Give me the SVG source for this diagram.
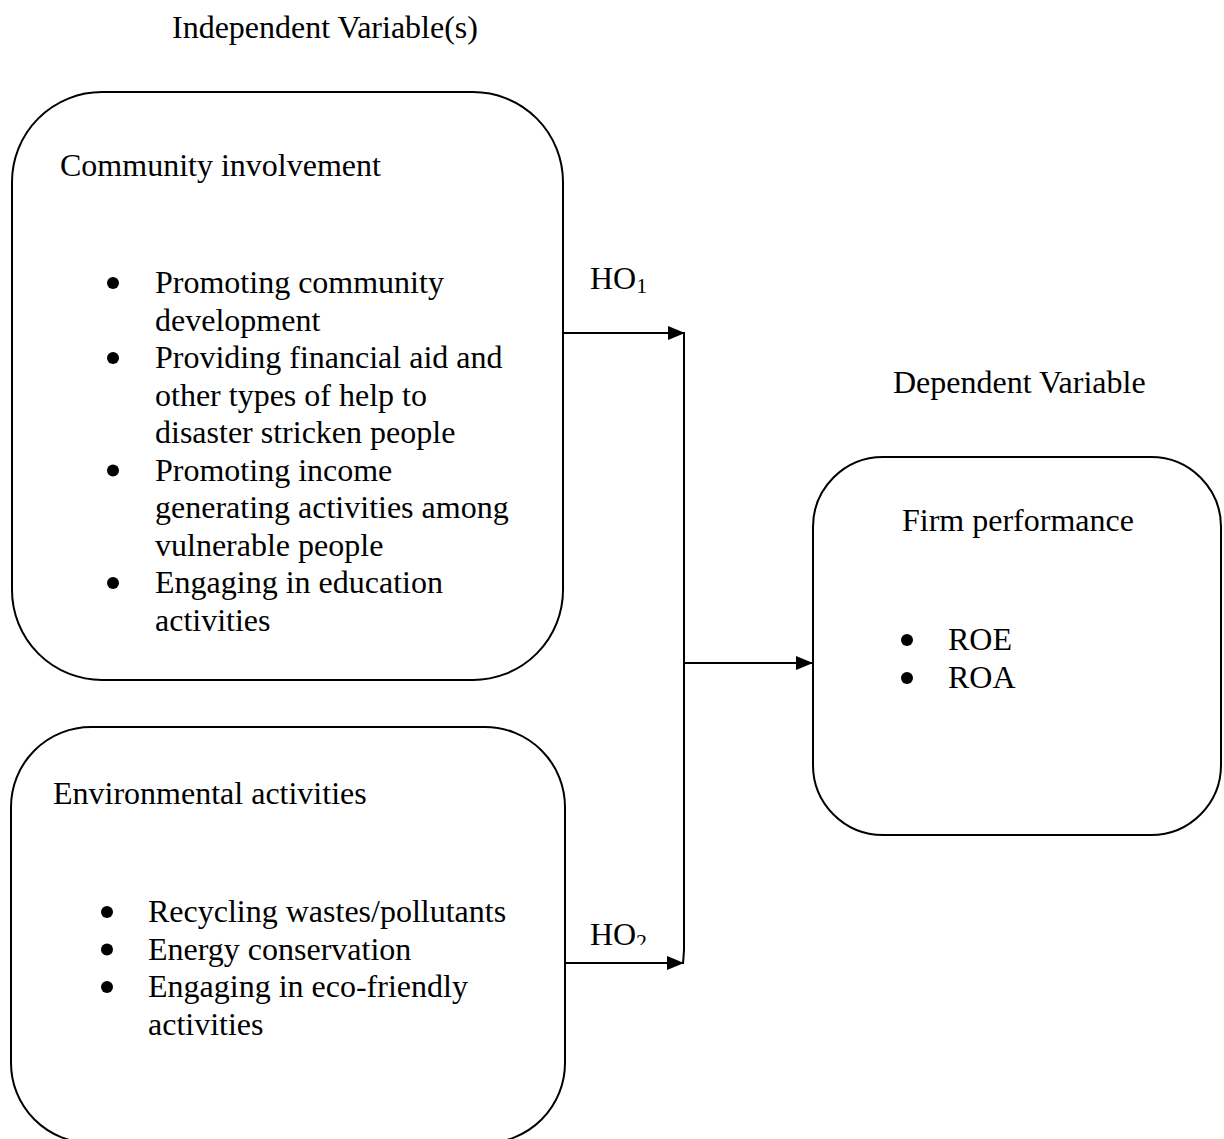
<svg xmlns="http://www.w3.org/2000/svg" width="1224" height="1139" viewBox="0 0 1224 1139">
<style>
text{font-family:"Liberation Serif","Times New Roman",serif;font-size:32px;fill:#000}
.box{fill:#fff;stroke:#000;stroke-width:2}
.conn{stroke:#000;stroke-width:2;fill:none}
.sub{font-size:22px}
</style>
<defs>
<marker id="ah" viewBox="0 0 17 14" refX="17" refY="7" markerWidth="17" markerHeight="14" markerUnits="userSpaceOnUse" orient="auto">
<path d="M0,0 L17,7 L0,14 Z" fill="#000"/>
</marker>
<clipPath id="clipHO2"><rect x="630" y="900" width="30" height="45"/></clipPath>
</defs>
<rect width="1224" height="1139" fill="#fff"/>
<text id="title-iv" x="172" y="38">Independent Variable(s)</text>
<text id="title-dv" x="893" y="393">Dependent Variable</text>
<g id="connectors">
<line class="conn" x1="563" y1="333" x2="685" y2="333" marker-end="url(#ah)"/>
<line class="conn" x1="684" y1="333" x2="684" y2="950"/>
<line class="conn" x1="684" y1="950" x2="683" y2="964"/>
<line class="conn" x1="565" y1="963" x2="684" y2="963" marker-end="url(#ah)"/>
<line class="conn" x1="684" y1="663" x2="813" y2="663" marker-end="url(#ah)"/>
<text x="590" y="289">HO<tspan class="sub" dy="4">1</tspan></text>
<text x="590" y="945">HO</text>
<text class="sub" x="636" y="949" clip-path="url(#clipHO2)">2</text>
</g>
<g id="node-community">
<rect class="box" x="12" y="92" width="551" height="588" rx="90" ry="90"/>
<text x="60" y="176">Community involvement</text>
<circle cx="113" cy="283" r="6"/>
<circle cx="113" cy="358" r="6"/>
<circle cx="113" cy="470.5" r="6"/>
<circle cx="113" cy="583" r="6"/>
<text x="155" y="293">Promoting community</text>
<text x="155" y="330.5">development</text>
<text x="155" y="368">Providing financial aid and</text>
<text x="155" y="405.5">other types of help to</text>
<text x="155" y="443">disaster stricken people</text>
<text x="155" y="480.5">Promoting income</text>
<text x="155" y="518">generating activities among</text>
<text x="155" y="555.5">vulnerable people</text>
<text x="155" y="593">Engaging in education</text>
<text x="155" y="630.5">activities</text>
</g>
<g id="node-environment">
<rect class="box" x="11" y="727" width="554" height="416" rx="80" ry="80"/>
<text x="53" y="804">Environmental activities</text>
<circle cx="107" cy="912" r="6"/>
<circle cx="107" cy="949.5" r="6"/>
<circle cx="107" cy="987" r="6"/>
<text x="148" y="922">Recycling wastes/pollutants</text>
<text x="148" y="959.5">Energy conservation</text>
<text x="148" y="997">Engaging in eco-friendly</text>
<text x="148" y="1034.5">activities</text>
</g>
<g id="node-firm">
<rect class="box" x="813" y="457" width="408" height="378" rx="70" ry="70"/>
<text x="902" y="531">Firm performance</text>
<circle cx="907" cy="640" r="6"/>
<circle cx="907" cy="678" r="6"/>
<text x="948" y="650">ROE</text>
<text x="948" y="688">ROA</text>
</g>
</svg>
